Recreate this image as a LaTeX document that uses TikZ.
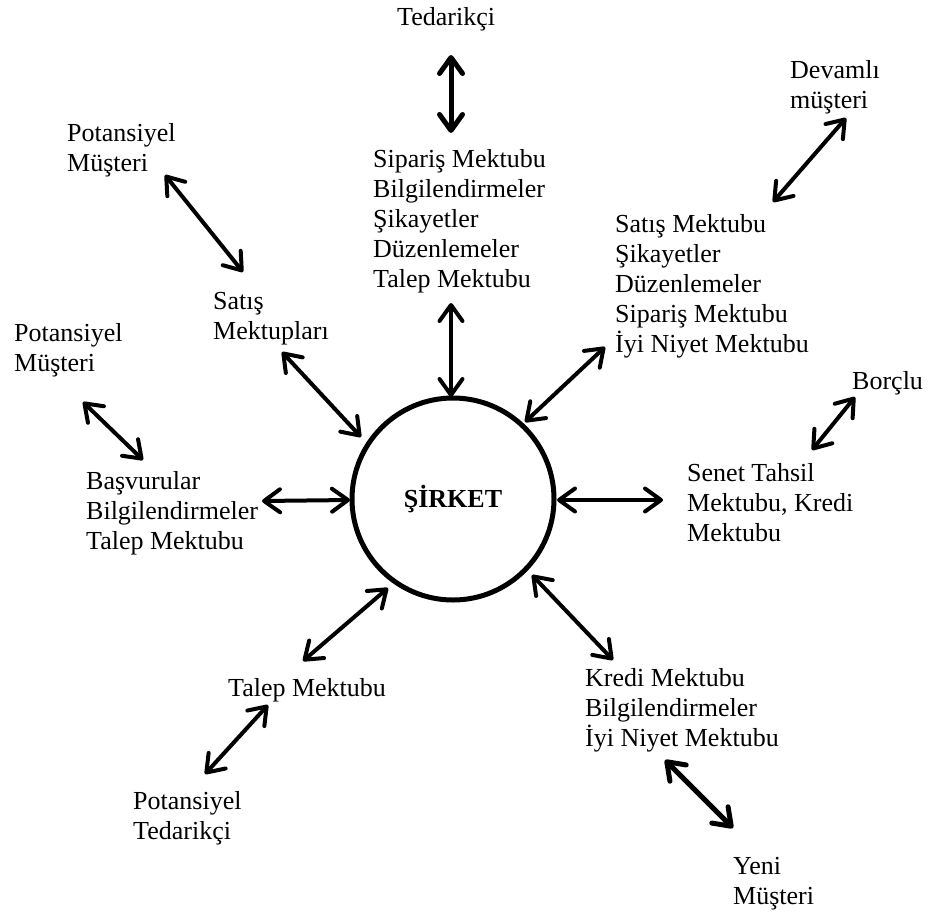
\documentclass[tikz,border=0pt]{standalone}
\usepackage{fontspec}
\setmainfont{Liberation Serif}
\usetikzlibrary{arrows.meta}
\newcommand\mlines[1]{\begin{tabular}[t]{@{}l@{}}#1\end{tabular}}
\begin{document}
\begin{tikzpicture}[x=1pt,y=-1pt,
  lbl/.style={inner sep=0pt, anchor=base west, font=\fontsize{26}{30}\selectfont},
  arr/.style={line width=4pt, line cap=round,
    {Straight Barb[length=16pt,width=23pt,line cap=round,line join=round]}-{Straight Barb[length=16pt,width=23pt,line cap=round,line join=round]}},
  arrthick/.style={arr, line width=5pt}]
\useasboundingbox (0,0) rectangle (936,915);
% centre
\node[circle, draw, line width=5pt, minimum size=202pt, inner sep=0pt,
      font=\fontsize{26}{30}\selectfont\bfseries] (c) at (453,499) {ŞİRKET};
% labels
\node[lbl] (ted) at (397,26) {Tedarikçi};
\node[lbl] (mid) at (373,167) {\mlines{Sipariş Mektubu\\Bilgilendirmeler\\Şikayetler\\Düzenlemeler\\Talep Mektubu}};
\node[lbl] (dev) at (790,79) {\mlines{Devamlı\\müşteri}};
\node[lbl] (rb) at (615,232) {\mlines{Satış Mektubu\\Şikayetler\\Düzenlemeler\\Sipariş Mektubu\\İyi Niyet Mektubu}};
\node[lbl] (pm1) at (67,141) {\mlines{Potansiyel\\Müşteri}};
\node[lbl] (sm) at (213,309) {\mlines{Satış\\Mektupları}};
\node[lbl] (pm2) at (14,341) {\mlines{Potansiyel\\Müşteri}};
\node[lbl] (bas) at (86,489) {\mlines{Başvurular\\Bilgilendirmeler\\Talep Mektubu}};
\node[lbl] (bor) at (852,389) {Borçlu};
\node[lbl] (sen) at (687,481) {\mlines{Senet Tahsil\\Mektubu, Kredi\\Mektubu}};
\node[lbl] (tm) at (228,696) {Talep Mektubu};
\node[lbl] (pt) at (133,809) {\mlines{Potansiyel\\Tedarikçi}};
\node[lbl] (kre) at (585,686) {\mlines{Kredi Mektubu\\Bilgilendirmeler\\İyi Niyet Mektubu}};
\node[lbl] (yen) at (733,874) {\mlines{Yeni\\Müşteri}};
% connector end points
\coordinate (a1) at (451,55);  \coordinate (a2) at (451,133);
\coordinate (b1) at (451,303); \coordinate (b2) at (451,397);
\coordinate (d1) at (846,118); \coordinate (d2) at (773,202);
\coordinate (e1) at (605,347); \coordinate (e2) at (525,422);
\coordinate (f1) at (855,397); \coordinate (f2) at (812,450);
\coordinate (g1) at (557,500); \coordinate (g2) at (663,500);
\coordinate (h1) at (532,575); \coordinate (h2) at (613,660);
\coordinate (i1) at (665,760); \coordinate (i2) at (733,828);
\coordinate (j1) at (388,588); \coordinate (j2) at (303,661);
\coordinate (k1) at (268,705); \coordinate (k2) at (205,774);
\coordinate (l1) at (262,501); \coordinate (l2) at (350,500);
\coordinate (m1) at (83,402);  \coordinate (m2) at (143,460);
\coordinate (n1) at (282,352); \coordinate (n2) at (361,437);
\coordinate (o1) at (165,175); \coordinate (o2) at (243,272);
% connectors
\draw[arrthick] (a1) -- (a2);
\draw[arr] (b1) -- (b2);
\draw[arr] (d1) -- (d2);
\draw[arr] (e1) -- (e2);
\draw[arr] (f1) -- (f2);
\draw[arr] (g1) -- (g2);
\draw[arr] (h1) -- (h2);
\draw[arrthick] (i1) -- (i2);
\draw[arr] (j1) -- (j2);
\draw[arr] (k1) -- (k2);
\draw[arr] (l1) -- (l2);
\draw[arr] (m1) -- (m2);
\draw[arr] (n1) -- (n2);
\draw[arr] (o1) -- (o2);
\end{tikzpicture}
\end{document}
